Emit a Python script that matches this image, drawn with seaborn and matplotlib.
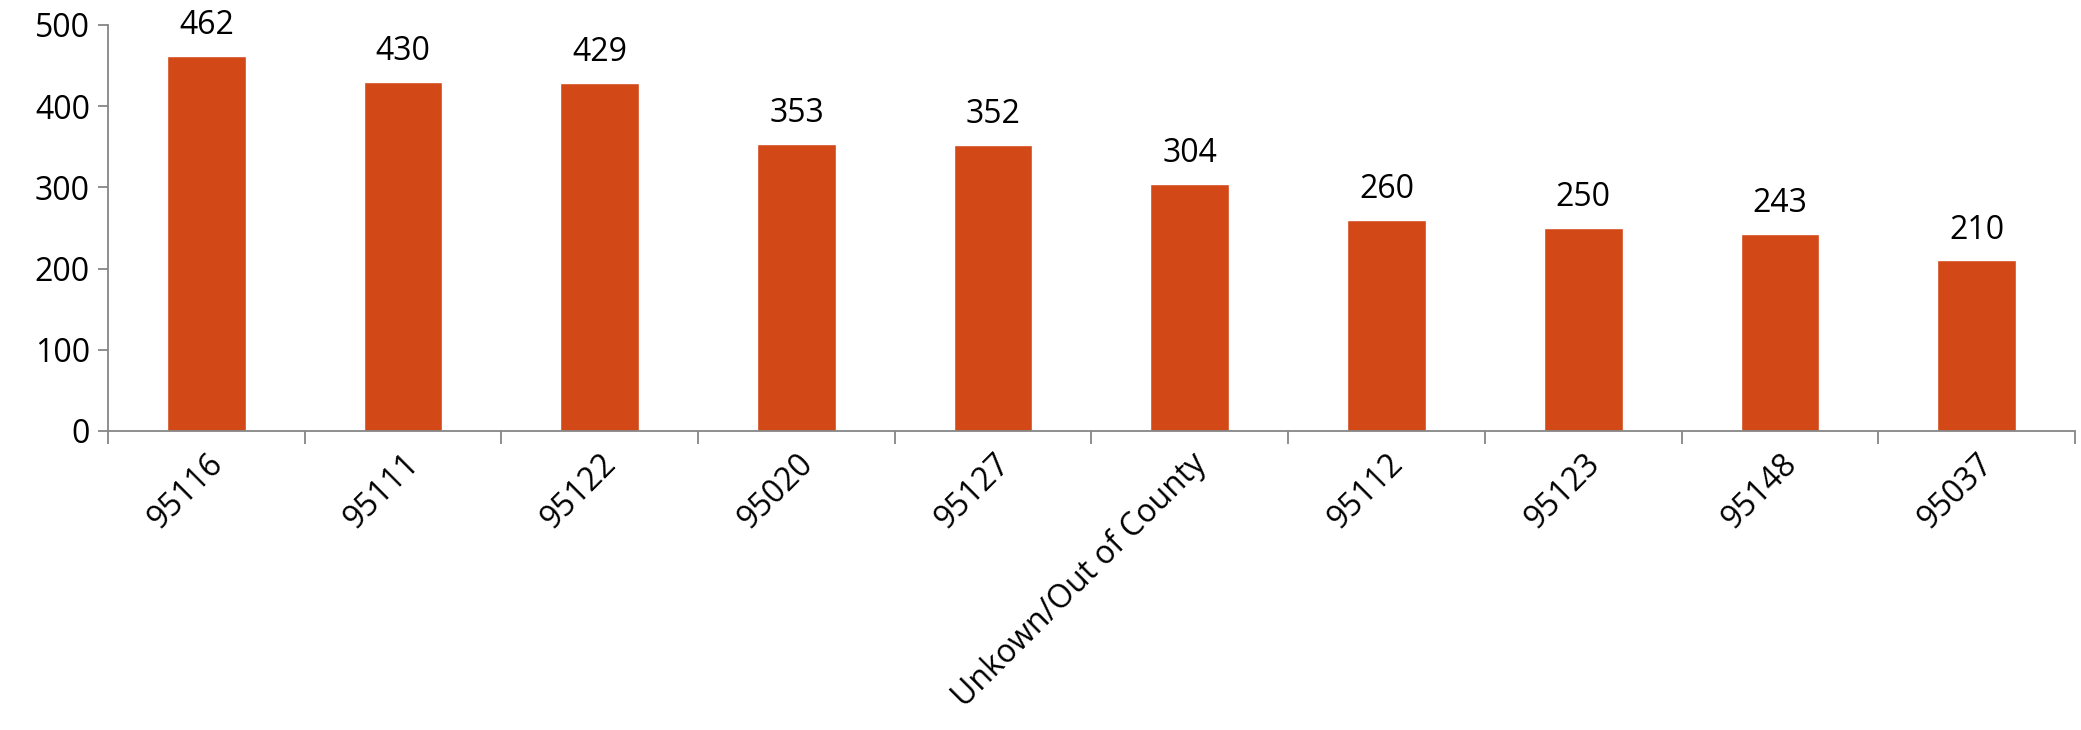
import matplotlib
matplotlib.use("Agg")
import matplotlib.pyplot as plt
import seaborn as sns
import pandas as pd
import numpy as np

zips = ["95116", "95111", "95122", "95020", "95127", "Unkown/Out of County",
        "95112", "95123", "95148", "95037"]
counts = [462, 430, 429, 353, 352, 304, 260, 250, 243, 210]

sns.set_style("white")
plt.rcParams['font.family'] = ['Open Sans', 'DejaVu Sans']
plt.rcParams['text.color'] = 'black'
plt.rcParams['xtick.labelcolor'] = 'black'
plt.rcParams['ytick.labelcolor'] = 'black'

df = pd.DataFrame({'zip': zips, 'count': counts})

fig = plt.figure(figsize=(20.81, 7.30), dpi=100)
ax = fig.add_axes([0.0519, 0.4096, 0.9452, 0.5562])

sns.barplot(data=df, x='zip', y='count', color='#D34817', saturation=1,
            width=0.40, ax=ax)

ax.set_ylim(0, 500)
ax.set_xlim(-0.5, len(zips) - 0.5)
ax.set_yticks(range(0, 501, 100))
ax.set_xlabel('')
ax.set_ylabel('')

for s in ['top', 'right']:
    ax.spines[s].set_visible(False)
for s in ['left', 'bottom']:
    ax.spines[s].set_color('#868686')
    ax.spines[s].set_linewidth(1.3)

ax.tick_params(axis='y', which='major', length=7, width=1.3, color='#868686',
               labelsize=23, pad=6, left=True, labelcolor='black')
ax.set_xticks(np.arange(len(zips)))
ax.set_xticklabels(zips, rotation=45, ha='right', rotation_mode='anchor')
ax.tick_params(axis='x', which='major', length=0, labelsize=23, pad=12,
               labelcolor='black')
ax.set_xticks(np.arange(len(zips) + 1) - 0.5, minor=True)
ax.tick_params(axis='x', which='minor', length=9, width=1.3, color='#868686',
               bottom=True)

ax.bar_label(ax.containers[0], labels=[str(v) for v in counts],
             padding=10, fontsize=23, color='black')

fig.savefig('out.png', dpi=100)
